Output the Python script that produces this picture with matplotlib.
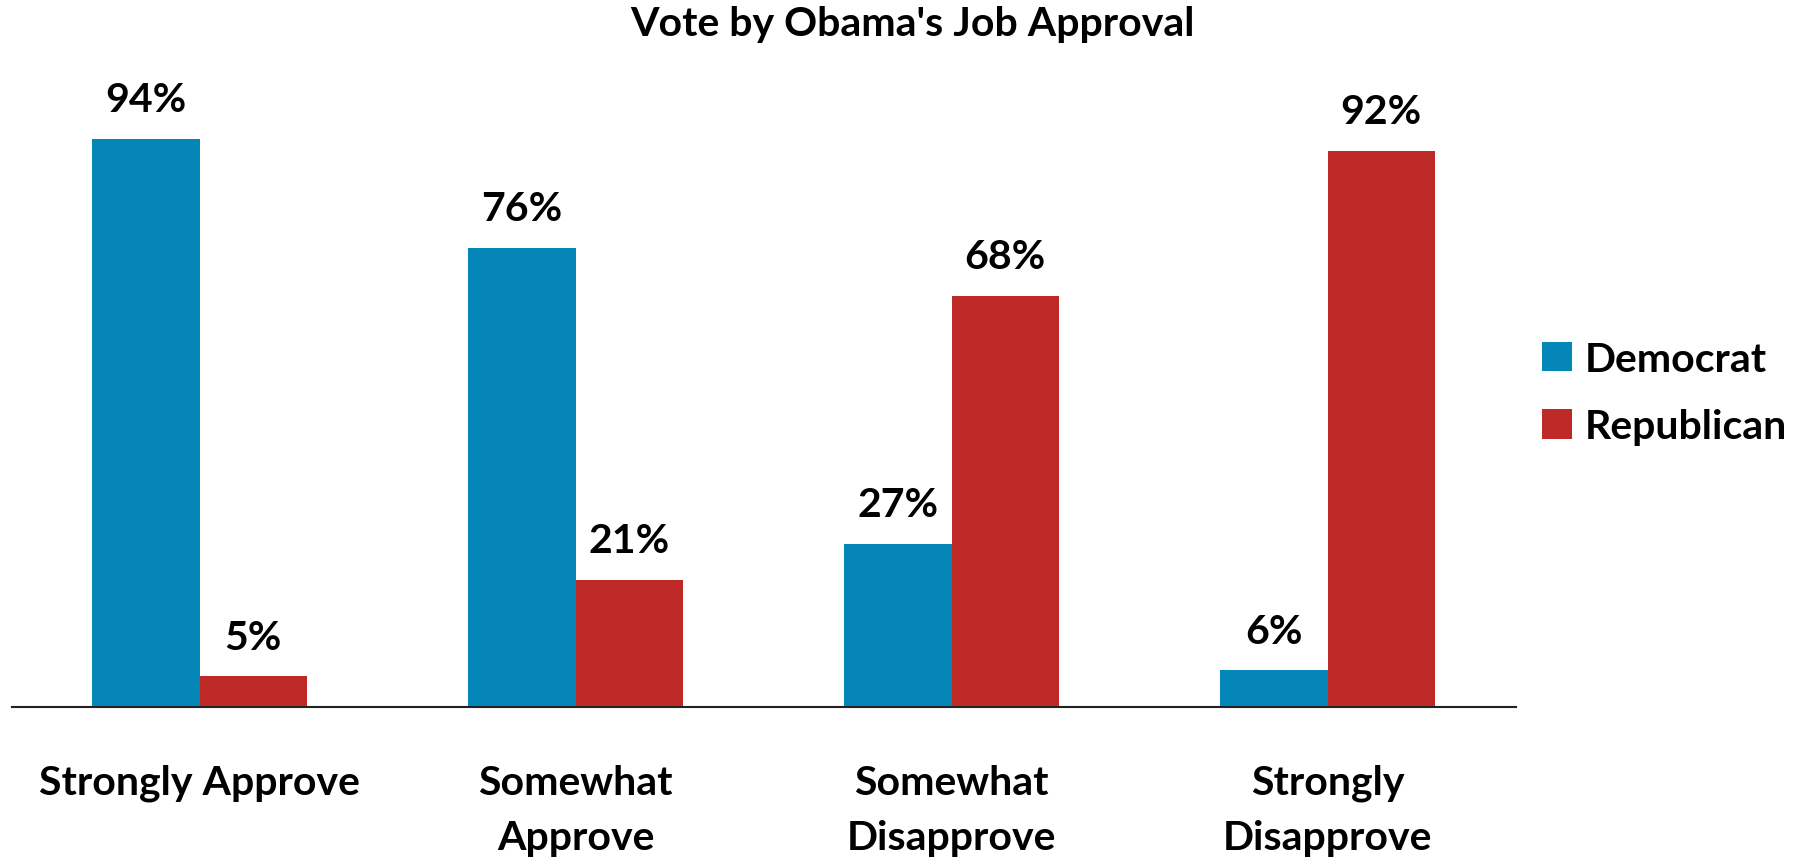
import matplotlib
matplotlib.use("Agg")
import matplotlib.pyplot as plt
import numpy as np

categories = ["Strongly Approve", "Somewhat\nApprove", "Somewhat\nDisapprove", "Strongly\nDisapprove"]
democrat = [94, 76, 27, 6]
republican = [5, 21, 68, 92]
series_names = ["Democrat", "Republican"]
colors = ["#0487B8", "#BE2A28"]

plt.rcParams["font.family"] = ["Lato", "DejaVu Sans"]
plt.rcParams["font.weight"] = "bold"

FS = 29.5

fig = plt.figure(figsize=(18.04, 8.62), dpi=100)
ax = fig.add_axes([0.0064, 0.1791, 0.8337, 0.7002])

x = np.arange(len(categories))
w = 0.285
for vals, off, col, name in [(democrat, -w / 2, colors[0], series_names[0]),
                             (republican, w / 2, colors[1], series_names[1])]:
    bars = ax.bar(x + off, vals, width=w, color=col, label=name)
    for b, v in zip(bars, vals):
        ax.annotate(f"{v}%", (b.get_x() + b.get_width() / 2, v),
                    xytext=(0, 15), textcoords="offset points",
                    ha="center", va="bottom", fontsize=FS, fontweight="bold")

ax.set_xlim(-0.5, len(categories) - 0.5)
ax.set_ylim(0, 100)
ax.set_yticks([])
for s in ["top", "right", "left"]:
    ax.spines[s].set_visible(False)
ax.spines["bottom"].set_linewidth(1.5)
ax.spines["bottom"].set_color("#222222")
ax.set_xticks(x)
ax.set_xticklabels(categories, fontsize=FS, fontweight="bold", va="top", linespacing=1.6)
ax.tick_params(axis="x", length=0, pad=41)

fig.text(0.506, 0.971, "Vote by Obama's Job Approval", ha="center", va="center",
         fontsize=FS, fontweight="bold")

leg = fig.legend(loc="center left", bbox_to_anchor=(0.855, 0.543), frameon=False,
                 fontsize=FS, handlelength=0.73, handleheight=0.73, labelspacing=0.75,
                 handletextpad=0.3, borderpad=0, borderaxespad=0)
for t in leg.get_texts():
    t.set_fontweight("bold")

fig.savefig("out.png", dpi=100)
